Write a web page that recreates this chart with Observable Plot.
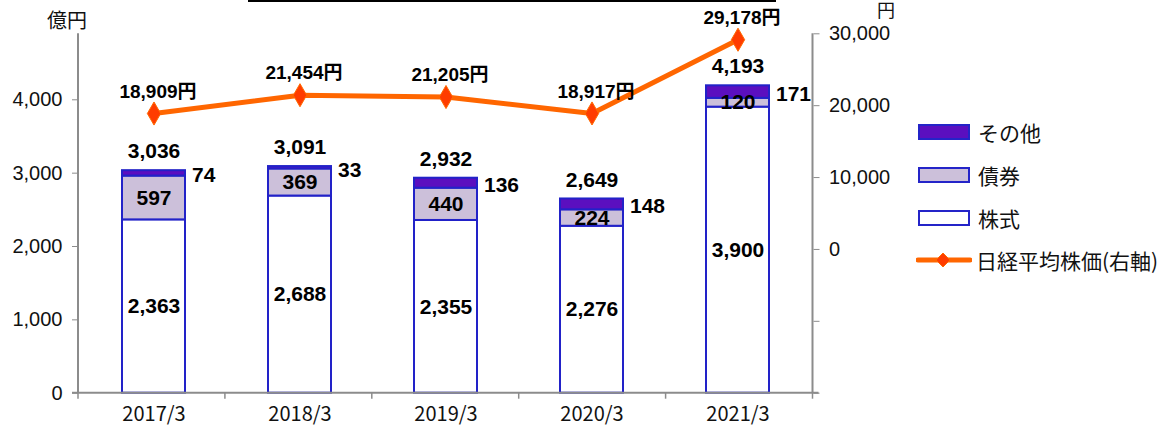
<!DOCTYPE html>
<html>
<head>
<meta charset="utf-8">
<script src="https://cdn.jsdelivr.net/npm/d3@7"></script>
<script src="https://cdn.jsdelivr.net/npm/@observablehq/plot@0.6"></script>
<style>
  html, body { margin: 0; padding: 0; background: #fff; }
  #wrap { position: relative; width: 1176px; height: 432px; overflow: hidden; font-family: "Liberation Sans", "Noto Sans CJK JP", sans-serif; }
  #wrap svg { position: absolute; left: 0; top: 0; }
  .ttl { position: absolute; font-family: "Noto Sans CJK JP", sans-serif; font-size: 20px; color: #111; line-height: normal; white-space: nowrap; }
  .ttl2 { position: absolute; font-family: "Liberation Sans", "Noto Sans CJK JP", sans-serif; font-size: 18px; line-height: 20px; color: #111; white-space: nowrap; }
  .leg { position: absolute; left: 916px; display: flex; align-items: center; font-family: "Noto Sans CJK JP", sans-serif; font-size: 21px; color: #111; white-space: nowrap; }
  .sw { width: 48px; height: 12px; border: 2px solid #2424c8; margin-right: 8px; margin-left: 2px; }
  #topline { position: absolute; left: 248px; top: 0; width: 528px; height: 2px; background: #000; }
</style>
</head>
<body>
<div id="wrap"></div>
<script>
// ---- data ----
const years = ["2017/3", "2018/3", "2019/3", "2020/3", "2021/3"];
const stocks = [2363, 2688, 2355, 2276, 3900];   // 株式
const bonds = [597, 369, 440, 224, 120];         // 債券
const others = [74, 33, 136, 148, 171];          // その他
const totals = [3036, 3091, 2932, 2649, 4193];
const nikkei = [18909, 21454, 21205, 18917, 29178]; // 日経平均株価(右軸)
const seriesNames = ["株式", "債券", "その他"];
const seriesColors = ["#ffffff", "#ccc0da", "#5b0fbf"];
const leftTicks = [0, 1000, 2000, 3000, 4000];
const rightTicks = [-20000, -10000, 0, 10000, 20000, 30000];
const leftDomain = [0, 4900];
const rightDomain = [-20000, 30000];

// ---- derived tables ----
const toLeft = v => (v - rightDomain[0]) / (rightDomain[1] - rightDomain[0]) * (leftDomain[1] - leftDomain[0]) + leftDomain[0];
const fromLeft = v => (v - leftDomain[0]) / (leftDomain[1] - leftDomain[0]) * (rightDomain[1] - rightDomain[0]) + rightDomain[0];
const rows = [];
years.forEach((y, i) => {
  rows.push({year: y, type: "株式", value: stocks[i]});
  rows.push({year: y, type: "債券", value: bonds[i]});
  rows.push({year: y, type: "その他", value: others[i]});
});
const totalRows = years.map((y, i) => ({year: y, total: totals[i]}));
const nkRows = years.map((y, i) => ({year: y, v: nikkei[i], yl: toLeft(nikkei[i])}));
const fmt = d3.format(",");

const W = 1176, H = 432;
const mL = 78, mR = 363.5, mT = 33.3, mB = 39.3;
const bandCount = years.length;

// custom mark: axis lines and category-boundary ticks
function frameLines(index, scales, values, dims) {
  const g = d3.create("svg:g");
  const x0 = dims.marginLeft, x1 = dims.width - dims.marginRight;
  const y0 = dims.marginTop, y1 = dims.height - dims.marginBottom;
  const stroke = "#8c8c8c";
  g.append("line").attr("x1", x0).attr("x2", x0).attr("y1", y0).attr("y2", y1).attr("stroke", stroke).attr("stroke-width", 2);
  g.append("line").attr("x1", x1).attr("x2", x1).attr("y1", y0).attr("y2", y1).attr("stroke", stroke).attr("stroke-width", 2);
  g.append("line").attr("x1", x0 - 6).attr("x2", x1 + 6).attr("y1", y1).attr("y2", y1).attr("stroke", stroke).attr("stroke-width", 2);
  for (let i = 0; i <= bandCount; i++) {
    const x = x0 + (x1 - x0) * i / bandCount;
    g.append("line").attr("x1", x).attr("x2", x).attr("y1", y1).attr("y2", y1 + 6).attr("stroke", stroke).attr("stroke-width", 1.5);
  }
  return g.node();
}

const chart = Plot.plot({
  width: W, height: H,
  marginLeft: mL, marginRight: mR, marginTop: mT, marginBottom: mB,
  style: {fontFamily: "'Liberation Sans', 'Noto Sans CJK JP', sans-serif", fontSize: "20px", color: "#111", background: "transparent"},
  x: {type: "band", domain: years, paddingInner: 0.566, paddingOuter: 0.283, axis: null},
  y: {domain: leftDomain, axis: null},
  color: {domain: seriesNames, range: seriesColors},
  marks: [
    Plot.barY(rows, {x: "year", y: "value", fill: "type", order: seriesNames, stroke: "#2222c8", strokeWidth: 2}),
    frameLines,
    Plot.axisY({anchor: "left", ticks: leftTicks, tickFormat: d => fmt(d), tickSize: 6, tickPadding: 10, stroke: "#8c8c8c", fill: "#111", fontSize: 20, label: null}),
    Plot.axisY({anchor: "right", ticks: rightTicks.map(toLeft), tickFormat: d => { const v = Math.round(fromLeft(d)); return v < 0 ? "" : fmt(v); }, tickSize: 6, tickPadding: 10, stroke: "#8c8c8c", fill: "#111", fontSize: 20, label: null}),
    Plot.axisX({anchor: "bottom", tickSize: 0, tickPadding: 14, fontFamily: "'Noto Sans CJK JP', sans-serif", fontSize: 20, fill: "#111", label: null}),
    // segment labels for 株式 and 債券 (centred), その他 (right of bar)
    Plot.text(rows, Plot.stackY({x: "year", y: "value", z: "type", order: seriesNames,
      text: d => d.type === "その他" ? "" : fmt(d.value), fontWeight: "bold", fontSize: 21, fill: "#000"})),
    Plot.text(rows, Plot.stackY({x: "year", y: "value", z: "type", order: seriesNames,
      text: d => d.type === "その他" ? fmt(d.value) : "", textAnchor: "start", dx: 38, dy: 2, fontWeight: "bold", fontSize: 21, fill: "#000"})),
    Plot.text(totalRows, {x: "year", y: "total", text: d => fmt(d.total), dy: -19, fontWeight: "bold", fontSize: 21, fill: "#000"}),
    // Nikkei line on right axis
    Plot.line(nkRows, {x: "year", y: "yl", stroke: "#ff6600", strokeWidth: 5}),
    Plot.dot(nkRows, {x: "year", y: "yl", symbol: "diamond", r: 7, fill: "#ff3c00", stroke: "#ff6a00", strokeWidth: 1}),
    Plot.text(nkRows, {x: "year", y: "yl", text: d => fmt(d.v) + "円", dy: -22, dx: 4, fontWeight: "bold", fontSize: 19, fill: "#000"})
  ]
});

const wrap = document.getElementById("wrap");
wrap.appendChild(chart);

wrap.insertAdjacentHTML("beforeend", `
  <div id="topline"></div>
  <div class="ttl" style="left:47px; top:5px;">億円</div>
  <div class="ttl2" style="left:877px; top:1px;">円</div>
  <div class="leg" style="top:117px;"><div class="sw" style="background:${seriesColors[2]}"></div>その他</div>
  <div class="leg" style="top:160px;"><div class="sw" style="background:${seriesColors[1]}"></div>債券</div>
  <div class="leg" style="top:203px;"><div class="sw" style="background:${seriesColors[0]}"></div>株式</div>
  <div class="leg" style="top:245px;">
    <svg width="56" height="28" style="position:static;margin-right:4px">
      <line x1="2" x2="54" y1="14" y2="14" stroke="#ff6600" stroke-width="5" stroke-linecap="round"/>
      <path d="M27,7 L34,14 L27,21 L20,14 Z" fill="#ff3c00" stroke="#ff6a00"/>
    </svg>日経平均株価(右軸)</div>
`);
</script>
</body>
</html>
